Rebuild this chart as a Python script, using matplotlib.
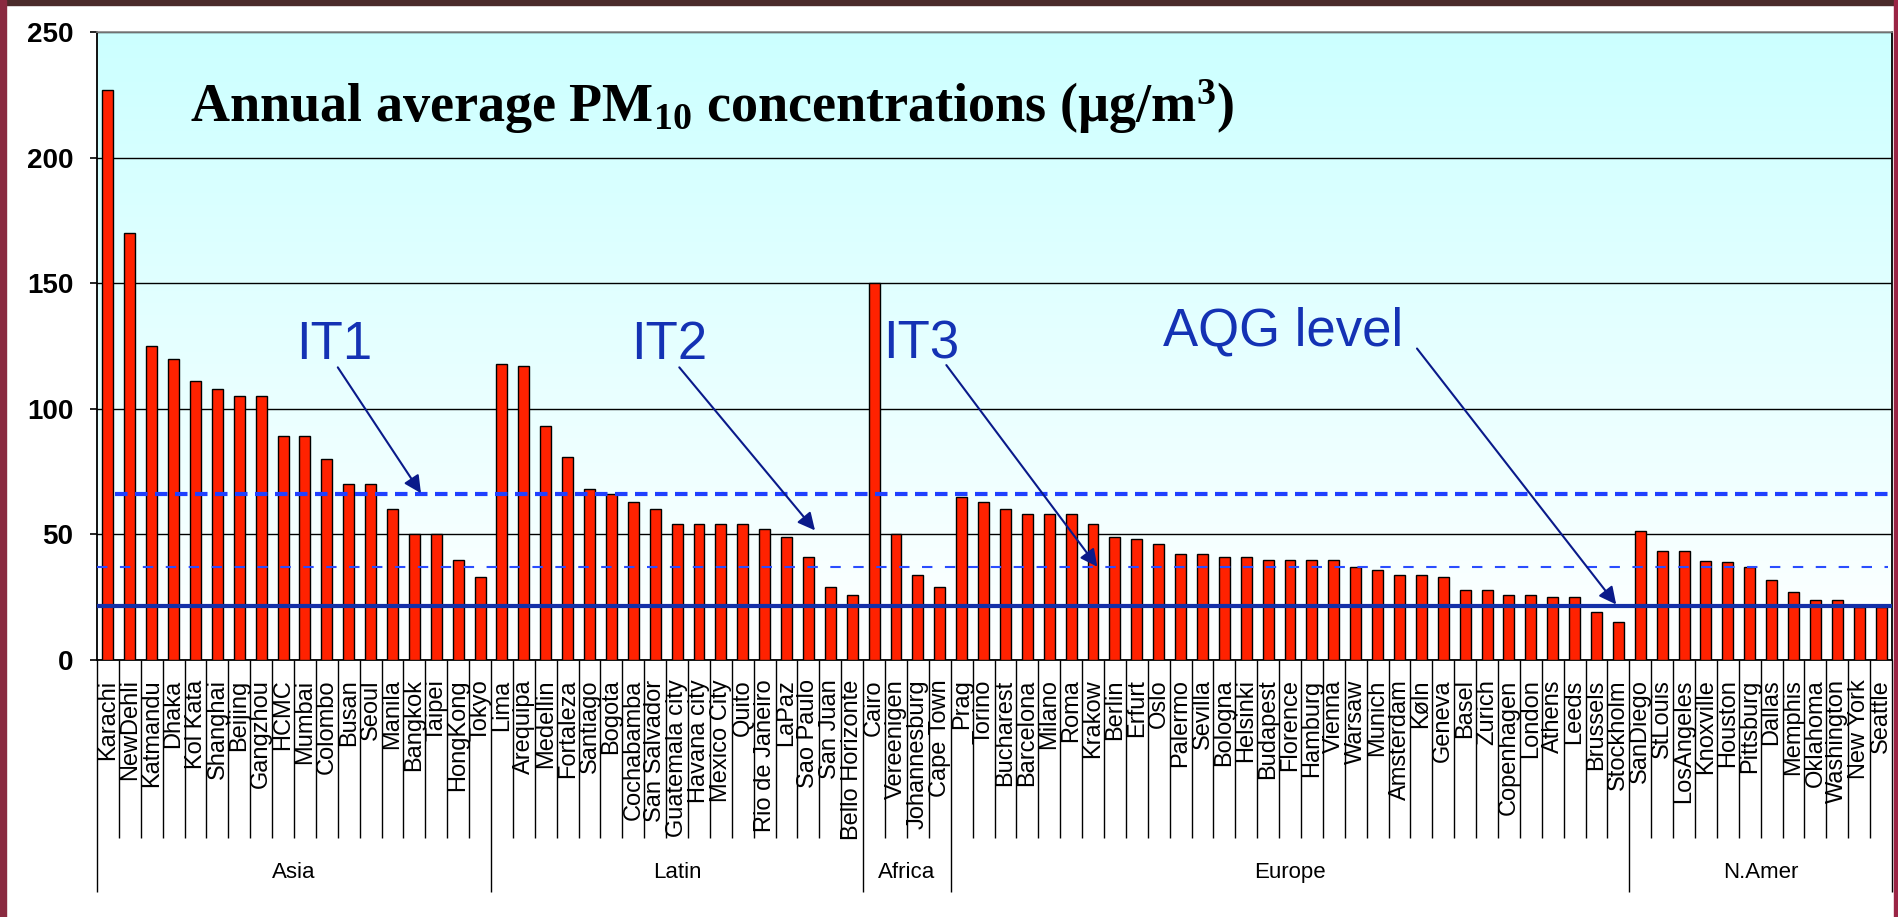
# -*- coding: utf-8 -*-
# Annual average PM10 per city, grouped by region, with WHO interim targets
import numpy as np
import matplotlib.pyplot as plt
import matplotlib.transforms as mtransforms
from matplotlib.patches import Rectangle

plt.rcParams['font.family'] = ['Liberation Sans', 'DejaVu Sans']
plt.rcParams['mathtext.default'] = 'regular'

# === data ===
asia = ["Karachi", "NewDehli", "Katmandu", "Dhaka", "Kol Kata", "Shanghai", "Beijing",
        "Gangzhou", "HCMC", "Mumbai", "Colombo", "Busan", "Seoul", "Manila", "Bangkok",
        "Taipei", "HongKong", "Tokyo"]
asia_pm10 = [227, 170, 125, 120, 111, 108, 105, 105, 89, 89, 80, 70, 70, 60, 50, 50, 40, 33]

latin = ["Lima", "Arequipa", "Medellin", "Fortaleza", "Santiago", "Bogota", "Cochabamba",
         "San Salvador", "Guatemala city", "Havana city", "Mexico City", "Quito",
         "Rio de Janeiro", "LaPaz", "Sao Paulo", "San Juan", "Bello Horizonte"]
latin_pm10 = [118, 117, 93, 81, 68, 66, 63, 60, 54, 54, 54, 54, 52, 49, 41, 29, 26]

africa = ["Cairo", "Vereenigen", "Johannesburg", "Cape Town"]
africa_pm10 = [150, 50, 34, 29]

europe = ["Prag", "Torino", "Bucharest", "Barcelona", "Milano", "Roma", "Krakow", "Berlin",
          "Erfurt", "Oslo", "Palermo", "Sevilla", "Bologna", "Helsinki", "Budapest",
          "Florence", "Hamburg", "Vienna", "Warsaw", "Munich", "Amsterdam", "Køln",
          "Geneva", "Basel", "Zurich", "Copenhagen", "London", "Athens", "Leeds",
          "Brussels", "Stockholm"]
europe_pm10 = [65, 63, 60, 58, 58, 58, 54, 49, 48, 46, 42, 42, 41, 41, 40, 40, 40, 40,
               37, 36, 34, 34, 33, 28, 28, 26, 26, 25, 25, 19, 15]

namer = ["SanDiego", "StLouis", "LosAngeles", "Knoxville", "Houston", "Pittsburg",
         "Dallas", "Memphis", "Oklahoma", "Washington", "New York", "Seattle"]
namer_pm10 = [51.5, 43.5, 43.5, 39.5, 39, 37, 32, 27, 24, 24, 21, 21]

regions = ["Asia", "Latin", "Africa", "Europe", "N.Amer"]
region_cities = [asia, latin, africa, europe, namer]
region_values = [asia_pm10, latin_pm10, africa_pm10, europe_pm10, namer_pm10]

# guideline levels as drawn on the slide
it1_level = 66
it2_level = 37
aqg_level = 21.6

cities = sum(region_cities, [])
values = sum(region_values, [])

# === figure ===
fig = plt.figure(figsize=(18.98, 9.17), dpi=100)
fig.patches.append(Rectangle((0, 1 - 5 / 917), 1, 5 / 917, transform=fig.transFigure,
                             color="#4b2b2b", zorder=0))
fig.patches.append(Rectangle((0, 0), 6 / 1898, 1, transform=fig.transFigure,
                             color="#8a2a40", zorder=0))
fig.patches.append(Rectangle((1 - 4 / 1898, 0), 4 / 1898, 1, transform=fig.transFigure,
                             color="#9a2545", zorder=0))

ax = fig.add_axes([97 / 1898, 257 / 917, 1795 / 1898, 628 / 917])

# cyan -> white gradient plot area
grad = np.linspace(0, 1, 256)[:, None]
top_c = np.array([0.80, 1.0, 1.0])
bot_c = np.array([1.0, 1.0, 1.0])
img = top_c * (1 - grad[..., None]) + bot_c * grad[..., None]
ax.imshow(img, extent=[0, 1, 0, 1], transform=ax.transAxes, aspect="auto", zorder=0)

x = np.arange(len(cities))
ax.bar(x, values, width=0.5, color="#ff2200", edgecolor="black", linewidth=1.0, zorder=3)

ax.set_xlim(-0.5, len(cities) - 0.5)
ax.set_ylim(0, 250)
ax.set_yticks(np.arange(0, 251, 50))
ax.tick_params(axis="y", length=5, width=1.2, pad=12, labelsize=20)
for lbl in ax.get_yticklabels():
    lbl.set_fontweight("bold")
ax.set_xticks(x, cities, rotation=90, fontsize=17)
ax.tick_params(axis="x", length=0, pad=14)

ax.set_axisbelow("line")
ax.yaxis.grid(True, color="black", linewidth=1.0)

for side in ["left", "bottom", "right"]:
    ax.spines[side].set_color("black")
    ax.spines[side].set_linewidth(1.3)
ax.spines["top"].set_color("#888888")
ax.spines["top"].set_linewidth(1.2)

# guideline lines
ax.plot([0.3, len(cities) - 0.5], [it1_level, it1_level], color="#2040ff", lw=3,
        linestyle=(0, (3, 1.8)), zorder=4)
ax.plot([-0.5, len(cities) - 0.7], [it2_level, it2_level], color="#2a4dff", lw=1.5,
        linestyle=(0, (5, 6)), zorder=4)
ax.axhline(aqg_level, color="#1430a8", lw=3, zorder=4)

# labels + arrows
txt_color = "#1432b4"
arrow_color = "#0a1a8a"
notes = [
    ("IT1", (8.6, 120), (10.5, 116.5), (14.3, 66.4)),
    ("IT2", (23.9, 120), (26.1, 116.5), (32.3, 51.6)),
    ("IT3", (35.4, 120), (38.3, 117.4), (45.2, 37.1)),
    ("AQG level", (48.2, 125), (59.8, 124.0), (68.9, 22.1)),
]
for label, txy, start, end in notes:
    ax.text(txy[0], txy[1], label, ha="left", va="baseline", fontsize=38,
            color=txt_color, zorder=5)
    ax.annotate("", xy=end, xytext=start,
                arrowprops=dict(arrowstyle="-|>", color=arrow_color, lw=1.5,
                                mutation_scale=26, shrinkA=0, shrinkB=0), zorder=5)

ax.text(3.75, 214, "Annual average PM$_{10}$ concentrations (µg/m$^{3}$)",
        family=["Liberation Serif", "DejaVu Serif"], fontweight="bold", fontsize=39,
        ha="left", va="baseline", zorder=5)

# category / region separators below the axis
trans = mtransforms.blended_transform_factory(ax.transData, ax.transAxes)
counts = [len(c) for c in region_cities]
region_edges = np.concatenate([[0], np.cumsum(counts)]) - 0.5
cat_edges = [e for e in np.arange(len(cities) + 1) - 0.5 if e not in region_edges]
ax.vlines(cat_edges, -0.283, 0, transform=trans, clip_on=False, color="black", lw=1.0)
ax.vlines(region_edges, -0.369, 0, transform=trans, clip_on=False, color="black", lw=1.0)
for name, a, b in zip(regions, region_edges[:-1], region_edges[1:]):
    ax.text((a + b) / 2, -0.339, name, transform=trans, ha="center", va="center",
            fontsize=16)

fig.savefig("out.png", dpi=100)
